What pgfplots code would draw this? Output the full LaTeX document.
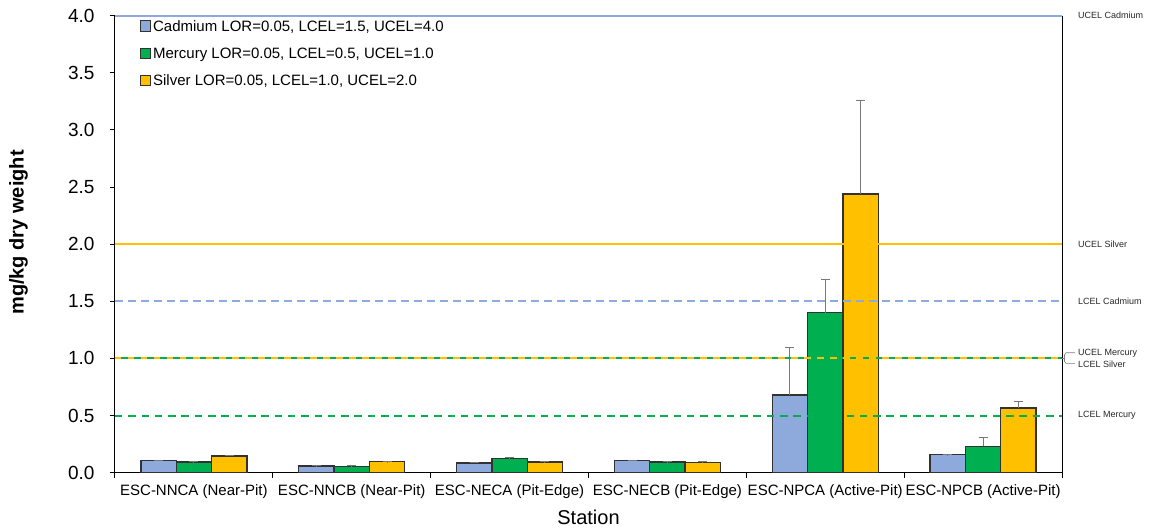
\documentclass[border=0pt]{standalone}
\usepackage{pgfplots}
\usepackage{pgfplotstable}
\pgfplotsset{compat=1.18}
\usetikzlibrary{calc}
\usepackage{fontspec}
\setmainfont{Liberation Sans}
\definecolor{colCd}{RGB}{142,169,219}
\definecolor{colHg}{RGB}{0,176,80}
\definecolor{colAg}{RGB}{255,192,0}
\definecolor{edge}{RGB}{50,50,50}
\definecolor{errc}{RGB}{120,120,120}

\pgfplotstableread{
x  cd     cde    hg     hge    ag     age
0  0.107  0.003  0.093  0.003  0.146  0.006
1  0.058  0.002  0.052  0.015  0.096  0.002
2  0.085  0.008  0.125  0.004  0.093  0.003
3  0.105  0.002  0.093  0.002  0.087  0.010
4  0.680  0.420  1.400  0.290  2.440  0.820
5  0.157  0.002  0.230  0.080  0.567  0.055
}\data

\pgfplotsset{
  errs/.style={error bars/.cd, y dir=plus, y explicit,
    error bar style={color=errc, line width=1bp},
    error mark options={rotate=90, mark size=4.5bp, color=errc, line width=1bp}},
  guide/.style={sharp plot, forget plot, no marks, line width=2bp},
}
\newcommand{\yl}[1]{#1\hspace*{12bp}}

\begin{document}
\begin{tikzpicture}
\begin{axis}[
  at={(0,0)}, anchor=south west,
  width=947bp, height=457bp, scale only axis,
  xmin=-0.5, xmax=5.5, ymin=0, ymax=4,
  clip=false,
  axis x line*=bottom, axis y line*=left,
  axis line style={black, line width=1bp},
  tick align=outside,
  every tick/.style={black, line width=1bp},
  major tick length=5bp,
  ytick={0,0.5,1,1.5,2,2.5,3,3.5,4},
  yticklabels={\yl{0.0},\yl{0.5},\yl{1.0},\yl{1.5},\yl{2.0},\yl{2.5},\yl{3.0},\yl{3.5},\yl{4.0}},
  yticklabel style={font=\fontsize{19bp}{20bp}\selectfont},
  xtick={0,1,2,3,4,5},
  xticklabels={ESC-NNCA (Near-Pit),ESC-NNCB (Near-Pit),ESC-NECA (Pit-Edge),ESC-NECB (Pit-Edge),ESC-NPCA (Active-Pit),ESC-NPCB (Active-Pit)},
  xticklabel style={font=\fontsize{15bp}{18bp}\selectfont, yshift=-3bp},
  x tick style={draw=none},
  extra x ticks={-0.5,0.5,1.5,2.5,3.5,4.5,5.5},
  extra x tick labels={},
  extra x tick style={x tick style={draw=black, line width=1bp}, major tick length=5bp},
  ybar, bar width=0.224,
  legend style={at={(0.026,0.995)}, anchor=north west, draw=none, fill=none,
    font=\fontsize{15bp}{18bp}\selectfont, legend cell align=left, row sep=11bp,
    inner sep=0pt},
  legend image code/.code={\draw[#1, draw=edge, line width=0.8bp] (0bp,-5bp) rectangle (10.5bp,5.5bp);},
]
\addplot[fill=colCd, draw=edge, line width=1.3bp, bar shift=-0.224, errs] table[x=x, y=cd, y error=cde]{\data};
\addlegendentry{Cadmium LOR=0.05, LCEL=1.5, UCEL=4.0}
\addplot[fill=colHg, draw=edge, line width=1.3bp, bar shift=0, errs] table[x=x, y=hg, y error=hge]{\data};
\addlegendentry{Mercury LOR=0.05, LCEL=0.5, UCEL=1.0}
\addplot[fill=colAg, draw=edge, line width=1.3bp, bar shift=0.224, errs] table[x=x, y=ag, y error=age]{\data};
\addlegendentry{Silver LOR=0.05, LCEL=1.0, UCEL=2.0}

% guideline limits
\addplot[guide, draw=colCd] coordinates {(-0.5,4) (5.5,4)};
\addplot[guide, draw=colAg] coordinates {(-0.5,2) (5.5,2)};
\addplot[guide, draw=colCd, dash pattern=on 8bp off 5bp] coordinates {(-0.5,1.5) (5.5,1.5)};
\addplot[guide, draw=colHg] coordinates {(-0.5,1) (5.5,1)};
\addplot[guide, draw=colAg, dash pattern=on 6.5bp off 6.5bp] coordinates {(-0.5,1) (5.5,1)};
\addplot[guide, draw=colHg, color=colHg, dash pattern=on 7.5bp off 5.8bp] coordinates {(-0.5,0.5) (5.5,0.5)};

\draw[black, line width=1bp] (axis cs:5.5,0) -- (axis cs:5.5,4);
\coordinate (m) at (axis cs:5.5,1);

\begin{scope}[every node/.style={anchor=west, inner sep=0pt, font=\fontsize{9bp}{10bp}\selectfont, text=black!85}]
\node at ([xshift=16bp]axis cs:5.5,4) {UCEL Cadmium};
\node at ([xshift=16bp]axis cs:5.5,2) {UCEL Silver};
\node at ([xshift=16bp]axis cs:5.5,1.5) {LCEL Cadmium};
\node at ([xshift=16bp,yshift=4.7bp]axis cs:5.5,1) {UCEL Mercury};
\node at ([xshift=16bp,yshift=-5.9bp]axis cs:5.5,1) {LCEL Silver};
\node at ([xshift=16bp]axis cs:5.5,0.5) {LCEL Mercury};
\end{scope}
\end{axis}
\draw[gray, line width=0.6bp] (m) -- ++(2.5bp,0);
\draw[gray, line width=0.6bp] ($(m)+(13bp,5.7bp)$) -- ++(-9bp,0) -- ++(-1.5bp,-2bp) -- ++(0,-6.6bp) -- ++(1.5bp,-2bp) -- ++(9bp,0);
\node[rotate=90, font=\bfseries\fontsize{20bp}{24bp}\selectfont] at (-96.5bp,240.2bp) {mg/kg dry weight};
\node[font=\fontsize{20bp}{24bp}\selectfont] at (473.5bp,-44.3bp) {Station};
\pgfresetboundingbox
\path[use as bounding box] (-115bp,-57.3bp) rectangle (1038bp,472.7bp);
\end{tikzpicture}
\end{document}
